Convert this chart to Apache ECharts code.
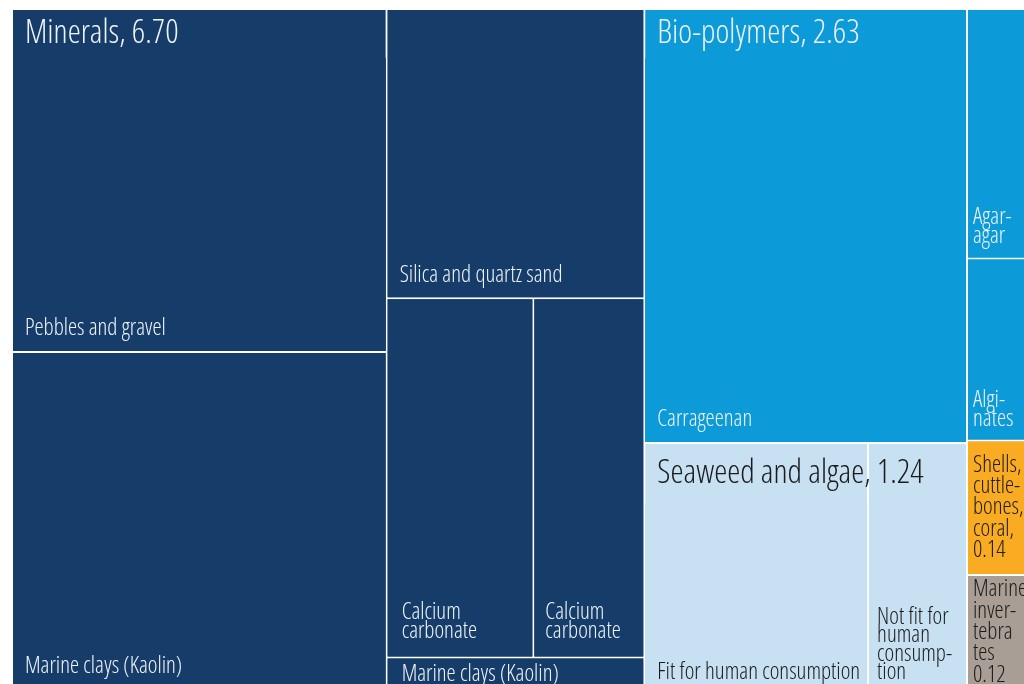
<!DOCTYPE html>
<html>
<head>
<meta charset="utf-8">
<script src="https://cdn.jsdelivr.net/npm/echarts@6/dist/echarts.min.js"></script>
<style>
  html, body { margin: 0; padding: 0; background: #ffffff; }
  #chart { width: 1024px; height: 684px; }
</style>
</head>
<body>
<div id="chart"></div>
<script>
// Category headings (small cells carry their own value on the last line)
const groupNames = ['Minerals', 'Bio-polymers', 'Seaweed and algae', 'Shells,\ncuttle-\nbones,\ncoral,', 'Marine\ninver-\ntebra\ntes'];
const otherValues = [0.14, 0.12];

const mineralNames = ['Pebbles and gravel', 'Marine clays (Kaolin)', 'Silica and quartz sand', 'Calcium\ncarbonate', 'Calcium\ncarbonate', 'Marine clays (Kaolin)'];
const mineralValues = [2.00, 1.97, 1.16, 0.82, 0.62, 0.13];

const biopolymerNames = ['Carrageenan', 'Agar-\nagar', 'Algi-\nnates'];
const biopolymerValues = [2.18, 0.26, 0.19];

const seaweedNames = ['Fit for human consumption', 'Not fit for\nhuman\nconsump-\ntion'];
const seaweedValues = [0.86, 0.38];

// Narrow, light lettering: Open Sans with a condensed width
const FONT = '"Open Sans", "Liberation Sans", sans-serif';
const STRETCH = 'condensed';
const WEIGHT = 300;
const FILL = { minerals: '#163c6a', bio: '#0c9ad8', seaweed: '#c7e1f3', shells: '#f9ab21', invert: '#a89e95' };
const INK = { light: '#eef3f8', dark: '#1b1b1b' };

const sum = a => a.reduce((s, v) => s + v, 0);
const heading = (i, values) => groupNames[i] + ', ' + sum(values).toFixed(2);

// A coloured cell; its label sits bottom-left unless overridden.
function cell(name, value, fill, ink, label) {
  return {
    name: name,
    value: value,
    itemStyle: { color: fill, borderColor: fill },
    label: Object.assign({ color: ink }, label || {})
  };
}

// A cell that also carries its category heading across the top.
function headed(title, child, fill, ink, bandHeight) {
  return {
    name: title,
    children: [child],
    itemStyle: { borderColor: fill, borderWidth: 0, gapWidth: 0 },
    upperLabel: {
      show: true,
      height: bandHeight,
      position: 'insideLeft',
      distance: 0,
      padding: [0, 0, 0, 12],
      color: ink,
      fontFamily: FONT,
      fontStyle: STRETCH,
      fontWeight: WEIGHT,
      fontSize: 33,
      lineHeight: 34,
      overflow: 'none',
      formatter: title
    }
  };
}

// Layout-only grouping (white gaps, nothing drawn of its own).
const block = children => ({ name: '', children: children });

const m = (i, label) => cell(mineralNames[i], mineralValues[i], FILL.minerals, INK.light, label);
const b = (i, label) => cell(biopolymerNames[i], biopolymerValues[i], FILL.bio, INK.light, label);
const s = (i, label) => cell(seaweedNames[i], seaweedValues[i], FILL.seaweed, INK.dark, label);

const midLabel = { position: 'insideLeft', padding: [0, 0, 0, 5], lineHeight: 21.3 };

const treeData = [
  block([
    block([
      block([headed(heading(0, mineralValues), m(0), FILL.minerals, INK.light, 48), m(1)]),
      block([
        m(2),
        block([m(3, { padding: [0, 0, 16, 14] }), m(4, { padding: [0, 0, 16, 11] })]),
        m(5, { padding: [0, 0, 5, 14], lineHeight: 20 })
      ])
    ]),
    block([
      headed(heading(1, biopolymerValues), b(0), FILL.bio, INK.light, 48),
      block([
        headed(heading(2, seaweedValues), s(0, { padding: [0, 0, 7, 12] }), FILL.seaweed, INK.dark, 60),
        s(1, { padding: [0, 0, 7, 8] })
      ])
    ])
  ]),
  block([
    b(1, { padding: [0, 0, 12, 5] }),
    b(2, { padding: [0, 0, 11, 5] }),
    cell(groupNames[3] + '\n' + otherValues[0].toFixed(2), otherValues[0], FILL.shells, INK.dark, midLabel),
    cell(groupNames[4] + '\n' + otherValues[1].toFixed(2), otherValues[1], FILL.invert, INK.dark, midLabel)
  ])
];

const chart = echarts.init(document.getElementById('chart'), null, { renderer: 'canvas' });
chart.setOption({
  animation: false,
  backgroundColor: '#ffffff',
  series: [{
    type: 'treemap',
    left: 13,
    top: 10,
    width: 1020,
    height: 679,
    sort: false,
    squareRatio: 1.72,
    roam: false,
    nodeClick: false,
    silent: true,
    breadcrumb: { show: false },
    itemStyle: { borderWidth: 0, gapWidth: 2, borderColor: '#ffffff' },
    label: {
      show: true,
      position: 'insideBottomLeft',
      distance: 0,
      padding: [0, 0, 13, 12],
      fontFamily: FONT,
      fontStyle: STRETCH,
      fontWeight: WEIGHT,
      fontSize: 23,
      lineHeight: 18.5,
      overflow: 'none'
    },
    upperLabel: { show: false },
    data: treeData
  }]
});
</script>
</body>
</html>
